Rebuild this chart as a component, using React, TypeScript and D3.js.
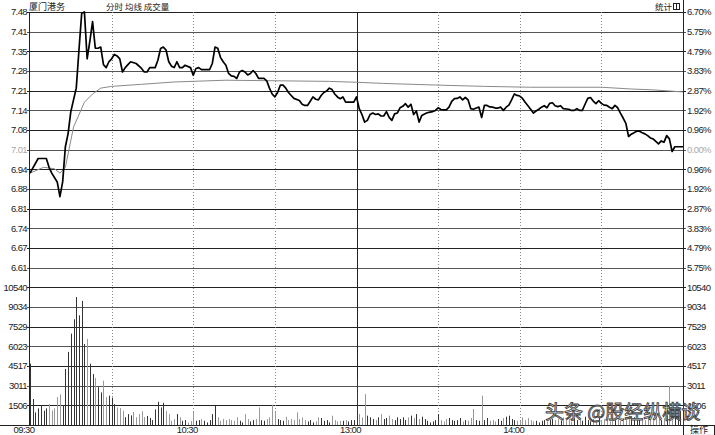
import React from 'react';
import * as d3 from 'd3';

const PREV_CLOSE = 7.01;
const STOCK_NAME = '厦门港务';
const HEADER_TABS = '分时 均线 成交量';
const PRICE_LABELS = ['7.48', '7.41', '7.35', '7.28', '7.21', '7.14', '7.08', '7.01', '6.94', '6.88', '6.81', '6.74', '6.67', '6.61'];
const PCT_LABELS = ['6.70%', '5.75%', '4.79%', '3.83%', '2.87%', '1.92%', '0.96%', '0.00%', '0.96%', '1.92%', '2.87%', '3.83%', '4.79%', '5.75%'];
const VOL_MAX = 10540;
const VOL_LABELS = ['10540', '9034', '7529', '6023', '4517', '3011', '1506'];
const TIME_LABELS = ['09:30', '10:30', '13:00', '14:00'];
const TIME_LABEL_MIN = [0, 60, 120, 180];
const DOTTED_MIN = [30, 60, 90, 150, 180, 210];
const SOLID_MIN = [120];

const PRICE: [number, number][] = [
  [0, 6.93], [3, 6.98], [6, 6.98], [7, 6.95], [8, 6.93], [10, 6.9], [11, 6.85], [12, 6.9], [13, 7.02], [14, 7.065],
  [15, 7.14], [16, 7.18], [17, 7.22], [18, 7.35], [19, 7.475], [20, 7.48], [21, 7.32], [22, 7.38], [23, 7.447], [24, 7.356],
  [25, 7.356], [26, 7.36], [27, 7.3], [28, 7.29], [29, 7.31], [30, 7.32], [31, 7.335], [32, 7.33], [33, 7.32], [34, 7.275],
  [35, 7.29], [36, 7.3], [37, 7.31], [39, 7.304], [41, 7.287], [42, 7.275], [43, 7.275], [44, 7.29], [46, 7.29], [47, 7.315],
  [48, 7.355], [49, 7.36], [50, 7.35], [51, 7.31], [52, 7.295], [53, 7.29], [54, 7.31], [55, 7.29], [56, 7.29], [57, 7.298],
  [59, 7.29], [60, 7.264], [61, 7.287], [62, 7.29], [63, 7.283], [66, 7.283], [67, 7.304], [68, 7.36], [69, 7.356], [70, 7.325],
  [71, 7.31], [72, 7.298], [73, 7.27], [74, 7.262], [75, 7.26], [76, 7.253], [77, 7.275], [78, 7.28], [79, 7.275], [80, 7.265],
  [81, 7.27], [82, 7.28], [83, 7.27], [84, 7.253], [86, 7.253], [87, 7.245], [88, 7.22], [89, 7.2], [90, 7.19], [91, 7.205],
  [92, 7.23], [93, 7.23], [94, 7.22], [95, 7.205], [96, 7.195], [97, 7.185], [99, 7.178], [100, 7.165], [101, 7.161], [102, 7.161],
  [103, 7.175], [104, 7.19], [105, 7.182], [106, 7.18], [107, 7.195], [108, 7.205], [109, 7.21], [110, 7.22], [111, 7.215], [112, 7.2],
  [113, 7.19], [114, 7.184], [115, 7.19], [116, 7.172], [119, 7.172], [120, 7.19], [121, 7.15], [122, 7.13], [123, 7.104], [124, 7.11],
  [125, 7.13], [126, 7.135], [127, 7.13], [128, 7.132], [129, 7.125], [130, 7.125], [131, 7.14], [132, 7.12], [133, 7.11], [134, 7.132],
  [135, 7.135], [136, 7.153], [137, 7.158], [138, 7.167], [139, 7.155], [140, 7.165], [141, 7.13], [142, 7.142], [143, 7.104], [144, 7.127],
  [145, 7.132], [146, 7.136], [147, 7.138], [148, 7.14], [149, 7.144], [150, 7.153], [151, 7.147], [153, 7.146], [154, 7.155], [155, 7.175],
  [156, 7.184], [157, 7.185], [158, 7.19], [159, 7.18], [160, 7.188], [161, 7.18], [162, 7.15], [163, 7.148], [164, 7.152], [165, 7.155],
  [166, 7.12], [167, 7.161], [168, 7.161], [169, 7.156], [170, 7.155], [171, 7.152], [172, 7.152], [173, 7.155], [174, 7.144], [175, 7.155],
  [176, 7.162], [177, 7.18], [178, 7.2], [179, 7.195], [180, 7.193], [181, 7.185], [182, 7.172], [183, 7.16], [184, 7.148], [185, 7.135],
  [186, 7.142], [187, 7.148], [188, 7.155], [189, 7.16], [190, 7.153], [191, 7.168], [192, 7.17], [193, 7.16], [194, 7.157], [195, 7.16],
  [196, 7.15], [198, 7.148], [199, 7.144], [200, 7.144], [201, 7.15], [202, 7.144], [203, 7.144], [204, 7.165], [205, 7.185], [206, 7.188],
  [207, 7.176], [208, 7.167], [209, 7.177], [210, 7.168], [211, 7.162], [212, 7.161], [213, 7.155], [214, 7.15], [215, 7.161], [216, 7.153],
  [217, 7.135], [218, 7.118], [219, 7.1], [220, 7.055], [221, 7.063], [222, 7.068], [223, 7.073], [224, 7.073], [225, 7.068], [226, 7.064],
  [227, 7.058], [228, 7.05], [229, 7.047], [230, 7.038], [231, 7.03], [232, 7.04], [233, 7.035], [234, 7.058], [235, 7.047], [236, 7.004],
  [237, 7.02], [240, 7.02],
];

const AVG: [number, number][] = [
  [0, 6.93], [5, 6.95], [9, 6.945], [11, 6.93], [13, 6.95], [16, 7.087], [20, 7.172], [23, 7.2], [26, 7.22], [30, 7.226],
  [41, 7.233], [53, 7.241], [72, 7.247], [110, 7.243], [120, 7.24], [130, 7.236], [151, 7.23], [167, 7.226], [184, 7.223],
  [210, 7.223], [221, 7.217], [229, 7.214], [240, 7.207],
];

const VOLUME = [
  4700, 2000, 970, 1280, 1530, 1100, 1280, 1600, 1120, 1280,
  2140, 2350, 1530, 4300, 5600, 7000, 8100, 9800, 8400, 9500,
  6200, 6600, 4700, 3900, 3600, 2900, 2500, 3400, 2140, 2250,
  2100, 1600, 1350, 1300, 1100, 600, 840, 740, 1000, 600,
  840, 1050, 600, 700, 540, 380, 1200, 1780, 1350, 1700,
  1070, 840, 330, 460, 840, 590, 330, 380, 200, 330,
  1100, 330, 380, 460, 330, 200, 380, 840, 1480, 590,
  330, 460, 380, 460, 380, 330, 590, 330, 200, 840,
  460, 280, 380, 460, 1350, 380, 330, 460, 590, 1550,
  1100, 460, 380, 330, 640, 380, 460, 380, 970, 460,
  590, 380, 280, 380, 200, 280, 590, 540, 330, 380,
  200, 720, 380, 280, 330, 330, 380, 280, 380, 380,
  3500, 840, 590, 2370, 720, 590, 460, 380, 590, 840,
  460, 540, 720, 460, 380, 590, 460, 590, 380, 590,
  720, 540, 840, 460, 640, 460, 330, 200, 280, 380,
  840, 380, 280, 460, 540, 380, 330, 380, 540, 280,
  380, 330, 540, 1230, 380, 330, 2250, 380, 540, 330,
  380, 280, 460, 330, 540, 640, 720, 460, 380, 330,
  380, 590, 380, 540, 380, 280, 330, 200, 330, 380,
  280, 380, 460, 380, 460, 330, 590, 380, 460, 280,
  540, 380, 460, 330, 640, 380, 280, 460, 380, 540,
  330, 460, 380, 280, 590, 380, 460, 330, 540, 380,
  720, 460, 590, 380, 460, 540, 380, 640, 460, 380,
  590, 460, 380, 540, 720, 3000, 900, 1300, 700, 1100,
  1600,
];

const W = 715;
const H = 435;
const L = 30;
const R = 683;
const TOP = 12;
const ROW = 19.67;
const FONT = '"Liberation Sans", Arial, sans-serif';
const CJK = '"Noto Sans CJK SC", sans-serif';

export default function App() {
  const x = d3.scaleLinear().domain([0, 240]).range([L, R]);
  const priceBottom = TOP + 14 * ROW;
  const volBottom = TOP + 21 * ROW;
  const yP = d3.scaleLinear().domain([PREV_CLOSE * (1 - 0.067), PREV_CLOSE * 1.067]).range([priceBottom, TOP]);
  const yV = d3.scaleLinear().domain([0, VOL_MAX]).range([volBottom, priceBottom]);
  const line = d3.line<[number, number]>().x((d) => x(d[0])).y((d) => yP(d[1]));

  const interp = (m: number) => {
    const i = d3.bisector((d: [number, number]) => d[0]).left(PRICE, m);
    if (i <= 0) return PRICE[0][1];
    if (i >= PRICE.length) return PRICE[PRICE.length - 1][1];
    const a = PRICE[i - 1];
    const b = PRICE[i];
    if (b[0] === m) return b[1];
    return a[1] + ((b[1] - a[1]) * (m - a[0])) / (b[0] - a[0]);
  };

  const rows = d3.range(22).map((i) => TOP + i * ROW);
  const txt = { fontFamily: FONT, fontSize: 9.5, letterSpacing: -0.6 } as const;

  return (
    <svg width={W} height={H} style={{ position: 'absolute', left: 0, top: 0, background: '#fff' }}>
      <rect x={0} y={0} width={W} height={H} fill="#fff" />
      {rows.slice(0, 21).map((y, i) => (
        <line key={'h' + i} x1={L - 3} x2={R + 3} y1={Math.round(y) + 0.5} y2={Math.round(y) + 0.5} stroke={i % 2 ? '#555' : '#222'} strokeWidth={1} />
      ))}
      {DOTTED_MIN.map((m) => (
        <line key={'d' + m} x1={Math.round(x(m)) + 0.5} x2={Math.round(x(m)) + 0.5} y1={TOP} y2={volBottom} stroke="#888" strokeDasharray="1,2" />
      ))}
      {SOLID_MIN.map((m) => (
        <line key={'s' + m} x1={Math.round(x(m)) + 0.5} x2={Math.round(x(m)) + 0.5} y1={TOP} y2={volBottom} stroke="#222" />
      ))}
      <line x1={L - 0.5} x2={L - 0.5} y1={TOP} y2={volBottom} stroke="#222" />
      <line x1={R + 0.5} x2={R + 0.5} y1={0} y2={H} stroke="#222" />
      <line x1={0} x2={W} y1={Math.round(volBottom) + 0.5} y2={Math.round(volBottom) + 0.5} stroke="#222" />

      {VOLUME.map((v, m) => {
        const down = m > 0 && interp(m) < interp(m - 1);
        const bx = Math.round(x(m)) + 0.5;
        return (
          <line key={'v' + m} x1={bx} x2={bx} y1={yV(0)} y2={yV(v)} stroke={down ? '#999' : '#333'} strokeWidth={1} />
        );
      })}

      <path d={line(AVG) || ''} fill="none" stroke="#8a8a8a" strokeWidth={1} />
      <path d={line(PRICE) || ''} fill="none" stroke="#000" strokeWidth={1.7} strokeLinejoin="round" />

      {PRICE_LABELS.map((t, i) => (
        <text key={'pl' + i} x={L - 3} y={rows[i]} dy="0.35em" textAnchor="end" fill={i === 7 ? '#aaa' : '#222'} style={txt}>{t}</text>
      ))}
      {VOL_LABELS.map((t, i) => (
        <text key={'vl' + i} x={L - 3} y={rows[14 + i]} dy="0.35em" textAnchor="end" fill="#222" style={txt}>{t}</text>
      ))}
      {PCT_LABELS.map((t, i) => (
        <text key={'pr' + i} x={R + 4} y={rows[i]} dy="0.35em" fill={i === 7 ? '#aaa' : '#222'} style={txt}>{t}</text>
      ))}
      {VOL_LABELS.map((t, i) => (
        <text key={'vr' + i} x={R + 4} y={rows[14 + i]} dy="0.35em" fill="#222" style={txt}>{t}</text>
      ))}

      {TIME_LABELS.map((t, i) => (
        <text key={'t' + i} x={Math.max(x(TIME_LABEL_MIN[i]) - 6, 17)} y={433} textAnchor="middle" fill="#222" style={txt}>{t}</text>
      ))}
      <rect x={R + 0.5} y={Math.round(volBottom) + 0.5} width={W - R - 1} height={H - volBottom} fill="#fff" stroke="#222" />
      <text x={699} y={433} textAnchor="middle" fill="#222" style={{ fontFamily: CJK, fontSize: 9 }}>操作</text>

      <text x={29} y={10} fill="#222" style={{ fontFamily: CJK, fontSize: 9 }}>{STOCK_NAME}</text>
      <text x={106} y={10} fill="#222" style={{ fontFamily: CJK, fontSize: 8.5 }}>{HEADER_TABS}</text>
      <text x={655} y={10} fill="#222" style={{ fontFamily: CJK, fontSize: 8.5 }}>统计</text>
      <rect x={673.5} y={3.5} width={6} height={6} fill="none" stroke="#222" />
      <line x1={676.5} x2={676.5} y1={3.5} y2={9.5} stroke="#222" />

      <text x={545} y={419} fill="#fff" stroke="#444" strokeWidth={0.9} style={{ fontFamily: CJK, fontSize: 19 }}>头条 @股经纵横谈</text>
    </svg>
  );
}
